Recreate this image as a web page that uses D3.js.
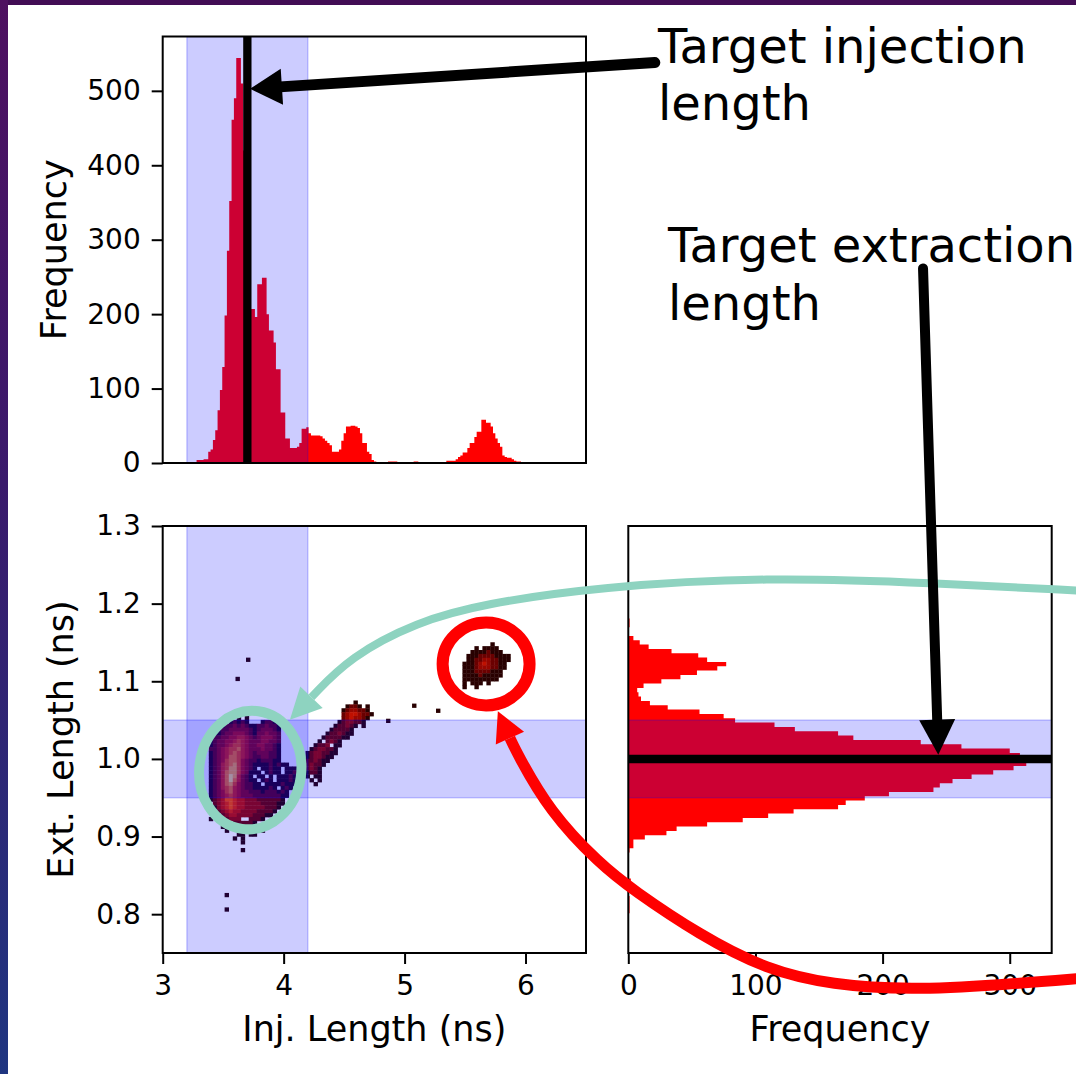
<!DOCTYPE html>
<html>
<head>
<meta charset="utf-8">
<script src="https://cdn.jsdelivr.net/npm/d3@7"></script>
<style>
  html, body { margin: 0; padding: 0; background: #ffffff; }
  svg { display: block; font-family: "DejaVu Sans", sans-serif; }
</style>
</head>
<body>
<svg id="fig" width="1076" height="1074"></svg>
<script>
// ---------------- data ----------------
const injDomain = [3, 6.5];
const extDomain = [0.75, 1.3];
const countDomain = [0, 573];
const freqDomain = [0, 333];

const injTicks = [3, 4, 5, 6];
const extTicks = [0.8, 0.9, 1.0, 1.1, 1.2, 1.3];
const countTicks = [0, 100, 200, 300, 400, 500];
const freqTicks = [0, 100, 200, 300];

const injWindow = [3.2, 4.2];
const extWindow = [0.95, 1.05];
const targetInj = 3.7;
const targetExt = 1.0;

// injection-length histogram (top panel)
const injBinStart = 3.28;
const injBinWidth = 0.0193;
const injCounts = [
  4, 4, 4, 5, 5, 15, 18, 31, 44, 71,
  98, 129, 198, 285, 352, 461, 490, 544, 544, 510,
  420, 330, 250, 207, 207, 196, 240, 240, 249, 249,
  200, 178, 178, 162, 126, 126, 68, 68, 33, 33,
  20, 20, 20, 22, 27, 46, 46, 48, 40, 37,
  37, 37, 37, 36, 33, 30, 27, 24, 15, 15,
  15, 18, 30, 40, 49, 49, 50, 50, 49, 47,
  40, 27, 27, 15, 12, 4, 2, 1, 0, 0,
  0, 0, 2, 2, 2, 2, 1, 0, 1, 0,
  0, 0, 0, 2, 2, 1, 0, 1, 1, 0,
  0, 1, 1, 1, 1, 0, 1, 3, 3, 3,
  3, 5, 8, 10, 14, 14, 20, 27, 27, 35,
  42, 42, 58, 58, 54, 54, 49, 40, 33, 27,
  22, 10, 8, 7, 7, 5, 3, 2, 2, 1
];

// extraction-length histogram (right panel), bins listed from the top down
const extBinTop = 1.1807;
const extBinWidth = 0.00558;
const extCounts = [
  1, 1, 0, 0,
  4, 9, 16, 34, 55, 62, 77, 70, 54, 41,
  26, 12, 7, 8, 10, 17, 31, 56, 75, 84,
  115, 131, 165, 177, 230, 262, 300, 308, 312, 313,
  303, 287, 270, 255, 245, 240, 205, 186, 171, 165,
  130, 110, 90, 62, 38, 30, 13, 4, 4, 1,
  0, 0, 0, 0, 0, 0, 2, 1, 0, 0, 1, 1, 1, 1
];

// 2-D density of (injection, extraction) pairs, one character per cell:
// '.' = empty, 1..9 = density level
const densityCell = [0.033, 0.005];
const mainClusterOrigin = [3.35, 1.055];
const mainClusterRows = [
  "........1.1..............",
  "......12121...1221.......",
  "....122323211223221......",
  "...1223333321233321......",
  "..11233444321334332......",
  ".122334455432344432......",
  ".123344565433344332......",
  ".123345665433443321......",
  ".223456675433343321......",
  ".123456765432333221......",
  ".123457765432233221......",
  ".123467764322122211......",
  ".12356786432111121211....",
  ".123568864321.11211.111..",
  ".1235788643111.1211.1121.",
  ".12357985321.11.1.11121..",
  ".123579753211.121.11121..",
  ".1235786432211.11112111..",
  ".12356754322111121.121...",
  ".12346754332221222121....",
  ".12345654333222222211....",
  ".1234665443332222221.....",
  "..234565443333222211.....",
  "..13456544333332221......",
  "...234544333322221.......",
  "....2344333322211........",
  ".1...2333..2221..........",
  ".......222221............",
  "....1....................",
  ".....1........1..........",
  "........11.11............",
  ".......1.1...............",
  ".........1...............",
  ".........................",
  ".........1..............."
];
const trailClusterOrigin = [4.15, 1.075];
const trailClusterRows = [
  ".............1....",
  "...........1221.1.",
  "..........1233221.",
  "..........23443221",
  "..........2343321.",
  ".........1233221..",
  "........122321.1..",
  ".......122221.....",
  "......1223211.....",
  ".....1222211......",
  "....1.2321........",
  "...1223.11........",
  "..1233221.........",
  ".12332211.........",
  ".1233211..........",
  "1223211...........",
  "123221............",
  "12321.............",
  ".1221.............",
  ".1.11.............",
  "..1.1.............",
  "...1.............."
];
const farClusterOrigin = [5.48, 1.155];
const farClusterRows = [
  ".............",
  ".......1.....",
  "...1.1111....",
  "..11112111...",
  ".11122221111.",
  ".11223322111.",
  "11123432211..",
  "11123332211..",
  "1112222111...",
  "1111211111...",
  "111111111....",
  "1.111.1......",
  "1..1........."
];
const strayPoints = [
  [3.707, 1.1277], [3.62, 1.103], [3.53, 0.8246], [3.53, 0.806],
  [5.08, 1.0685], [5.278, 1.062], [4.865, 1.049]
];

// call-outs, anchored in the data space of the panel they point into
const injArrow = { from: [7.069, 538], tip: [3.7215, 502.7] };        // (inj, count)
const extArrow = { from: [231.8, 1.6318], tip: [243.8, 1.0055] };     // (freq, ext)
const tealCurve = [[10.62, 1.2164], [9.366, 1.2267], [7.994, 1.2344], [6.614, 1.2216],
                   [5.647, 1.1997], [5.102, 1.1765], [4.548, 1.1315], [4.23, 1.0795]];
const tealTip = [4.052, 1.0505];
const redCurve = [[10.622, 0.7178], [9.92, 0.7088], [9.176, 0.7024], [8.54, 0.7088],
                  [7.994, 0.7281], [7.44, 0.7732], [6.887, 0.8312], [6.614, 0.8647],
                  [6.201, 0.9317], [5.928, 1.0077], [5.871, 1.0269]];
const redTip = [5.771, 1.0614];
const tealRing = { center: [3.724, 0.9856], radii: [0.4215, 0.0765], tilt: 8 };
const redRing = { center: [5.674, 1.1223], radii: [0.3595, 0.0534], tilt: 0 };

// ---------------- layout ----------------
const W = 1076, H = 1074;
const colL = [162.7, 586], colR = [628.3, 1051.7];
const rowT = [36.5, 463], rowB = [526, 953];

const xInj = d3.scaleLinear().domain(injDomain).range(colL);
const yCount = d3.scaleLinear().domain(countDomain).range([rowT[1], rowT[0]]);
const yExt = d3.scaleLinear().domain(extDomain).range([rowB[1], rowB[0]]);
const xFreq = d3.scaleLinear().domain(freqDomain).range(colR);

const BAND = "rgba(0,0,255,0.2)";
const HIST = "#ff0000";
const heat = ["#280000", "#6a0000", "#980600", "#c01000", "#dc2400", "#f04800", "#ff7812", "#ffaa32", "#ffe070"];

const svg = d3.select("#fig");
const defs = svg.append("defs");

// slide frame behind the figure
const edgeGrad = defs.append("linearGradient").attr("id", "edge").attr("x1", 0).attr("y1", 0).attr("x2", 0).attr("y2", 1);
edgeGrad.append("stop").attr("offset", "0%").attr("stop-color", "#4e1060");
edgeGrad.append("stop").attr("offset", "45%").attr("stop-color", "#3a1a6c");
edgeGrad.append("stop").attr("offset", "100%").attr("stop-color", "#1f3580");
svg.append("rect").attr("width", W).attr("height", H).attr("fill", "#ffffff");
svg.append("rect").attr("x", 0).attr("y", 0).attr("width", W).attr("height", 5).attr("fill", "#420d55");
svg.append("rect").attr("x", 0).attr("y", 0).attr("width", 8).attr("height", H).attr("fill", "url(#edge)");

function clipFor(id, xr, yr) {
  defs.append("clipPath").attr("id", id).append("rect")
    .attr("x", xr[0]).attr("y", yr[0]).attr("width", xr[1] - xr[0]).attr("height", yr[1] - yr[0]);
  return "url(#" + id + ")";
}

function drawFrame(xr, yr) {
  svg.append("rect").attr("x", xr[0]).attr("y", yr[0])
    .attr("width", xr[1] - xr[0]).attr("height", yr[1] - yr[0])
    .attr("fill", "none").attr("stroke", "#000").attr("stroke-width", 2);
}

function styleAxis(g) {
  g.select(".domain").remove();
  g.selectAll(".tick line").attr("stroke", "#000").attr("stroke-width", 2);
  g.selectAll(".tick text").attr("fill", "#000").style("font-size", "28px")
    .style("font-family", "'DejaVu Sans', sans-serif");
}

// ---------------- top panel: injection histogram ----------------
const injPanel = svg.append("g").attr("clip-path", clipFor("clipTop", colL, rowT));
const injOutline = [[injBinStart, 0]];
injCounts.forEach((c, i) => {
  const a = injBinStart + i * injBinWidth, b = a + injBinWidth;
  injOutline.push([a, c], [b, c]);
});
injOutline.push([injBinStart + injCounts.length * injBinWidth, 0]);
injPanel.append("path")
  .attr("d", d3.line().x(d => xInj(d[0])).y(d => yCount(d[1]))(injOutline))
  .attr("fill", HIST);
injPanel.append("rect")
  .attr("x", xInj(injWindow[0])).attr("width", xInj(injWindow[1]) - xInj(injWindow[0]))
  .attr("y", rowT[0]).attr("height", rowT[1] - rowT[0])
  .attr("fill", BAND).attr("stroke", BAND).attr("stroke-width", 1.5);
injPanel.append("line")
  .attr("x1", xInj(targetInj)).attr("x2", xInj(targetInj))
  .attr("y1", rowT[0]).attr("y2", rowT[1])
  .attr("stroke", "#000").attr("stroke-width", 8.3);
drawFrame(colL, rowT);
svg.append("g").attr("transform", `translate(${colL[0]},0)`)
  .call(d3.axisLeft(yCount).tickValues(countTicks).tickSize(11).tickPadding(11).tickFormat(d3.format("d")))
  .call(styleAxis);

// ---------------- bottom-left panel: 2-D density ----------------
const densityPanel = svg.append("g").attr("clip-path", clipFor("clipMid", colL, rowB));
const cells = [];
function addCells(rows, origin) {
  rows.forEach((row, r) => {
    [...row].forEach((ch, c) => {
      if (ch === ".") return;
      cells.push({
        inj: origin[0] + (c + 0.5) * densityCell[0],
        ext: origin[1] - (r + 0.5) * densityCell[1],
        level: +ch
      });
    });
  });
}
addCells(mainClusterRows, mainClusterOrigin);
addCells(trailClusterRows, trailClusterOrigin);
addCells(farClusterRows, farClusterOrigin);
strayPoints.forEach(p => cells.push({ inj: p[0], ext: p[1], level: 1 }));

const cw = xInj(injDomain[0] + densityCell[0]) - xInj(injDomain[0]);
const chh = yExt(extDomain[0]) - yExt(extDomain[0] + densityCell[1]);
densityPanel.append("g").selectAll("rect").data(cells).join("rect")
  .attr("x", d => xInj(d.inj) - cw / 2 - 0.2)
  .attr("y", d => yExt(d.ext) - chh / 2 - 0.2)
  .attr("width", cw + 0.4).attr("height", chh + 0.4)
  .attr("fill", d => heat[d.level - 1]);

densityPanel.append("rect")
  .attr("x", xInj(injWindow[0])).attr("width", xInj(injWindow[1]) - xInj(injWindow[0]))
  .attr("y", rowB[0]).attr("height", rowB[1] - rowB[0])
  .attr("fill", BAND).attr("stroke", BAND).attr("stroke-width", 1.5);
densityPanel.append("rect")
  .attr("x", colL[0]).attr("width", colL[1] - colL[0])
  .attr("y", yExt(extWindow[1])).attr("height", yExt(extWindow[0]) - yExt(extWindow[1]))
  .attr("fill", BAND).attr("stroke", BAND).attr("stroke-width", 1.5);
drawFrame(colL, rowB);
svg.append("g").attr("transform", `translate(${colL[0]},0)`)
  .call(d3.axisLeft(yExt).tickValues(extTicks).tickSize(11).tickPadding(11).tickFormat(d3.format(".1f")))
  .call(styleAxis);
svg.append("g").attr("transform", `translate(0,${rowB[1]})`)
  .call(d3.axisBottom(xInj).tickValues(injTicks).tickSize(11).tickPadding(11).tickFormat(d3.format("d")))
  .call(styleAxis);

// ---------------- right panel: extraction histogram ----------------
const extPanel = svg.append("g").attr("clip-path", clipFor("clipSide", colR, rowB));
const extOutline = [[0, extBinTop]];
extCounts.forEach((c, i) => {
  const hi = extBinTop - i * extBinWidth, lo = hi - extBinWidth;
  extOutline.push([c, hi], [c, lo]);
});
extOutline.push([0, extBinTop - extCounts.length * extBinWidth]);
extPanel.append("path")
  .attr("d", d3.line().x(d => xFreq(d[0])).y(d => yExt(d[1]))(extOutline))
  .attr("fill", HIST);
extPanel.append("rect")
  .attr("x", colR[0]).attr("width", colR[1] - colR[0])
  .attr("y", yExt(extWindow[1])).attr("height", yExt(extWindow[0]) - yExt(extWindow[1]))
  .attr("fill", BAND).attr("stroke", BAND).attr("stroke-width", 1.5);
extPanel.append("line")
  .attr("x1", colR[0]).attr("x2", colR[1])
  .attr("y1", yExt(targetExt)).attr("y2", yExt(targetExt))
  .attr("stroke", "#000").attr("stroke-width", 8.5);
drawFrame(colR, rowB);
svg.append("g").attr("transform", `translate(0,${rowB[1]})`)
  .call(d3.axisBottom(xFreq).tickValues(freqTicks).tickSize(11).tickPadding(11).tickFormat(d3.format("d")))
  .call(styleAxis);

// ---------------- axis titles ----------------
const titleFont = "35px";
svg.append("text").attr("transform", `translate(66,${(rowT[0] + rowT[1]) / 2}) rotate(-90)`)
  .attr("text-anchor", "middle").style("font-size", titleFont).text("Frequency");
svg.append("text").attr("transform", `translate(73,${(rowB[0] + rowB[1]) / 2}) rotate(-90)`)
  .attr("text-anchor", "middle").style("font-size", titleFont).text("Ext. Length (ns)");
svg.append("text").attr("x", (colL[0] + colL[1]) / 2).attr("y", 1041)
  .attr("text-anchor", "middle").style("font-size", titleFont).text("Inj. Length (ns)");
svg.append("text").attr("x", (colR[0] + colR[1]) / 2).attr("y", 1041)
  .attr("text-anchor", "middle").style("font-size", titleFont).text("Frequency");

// ---------------- call-outs ----------------
const notes = svg.append("g");

function headPoints(tip, base, width) {
  const dx = tip[0] - base[0], dy = tip[1] - base[1];
  const L = Math.hypot(dx, dy), nx = -dy / L, ny = dx / L;
  return [[base[0] + nx * width / 2, base[1] + ny * width / 2], tip,
          [base[0] - nx * width / 2, base[1] - ny * width / 2]];
}
function straightArrow(from, tip, len, width, stroke, color) {
  const dx = tip[0] - from[0], dy = tip[1] - from[1];
  const L = Math.hypot(dx, dy);
  const base = [tip[0] - dx / L * len, tip[1] - dy / L * len];
  notes.append("line").attr("x1", from[0]).attr("y1", from[1])
    .attr("x2", base[0] + dx / L * 2).attr("y2", base[1] + dy / L * 2)
    .attr("stroke", color).attr("stroke-width", stroke).attr("stroke-linecap", "round");
  notes.append("polygon").attr("points", headPoints(tip, base, width).join(" ")).attr("fill", color);
}
function curvedArrow(pts, tip, width, stroke, color) {
  notes.append("path")
    .attr("d", d3.line().curve(d3.curveBasis)(pts))
    .attr("fill", "none").attr("stroke", color).attr("stroke-width", stroke);
  const base = pts[pts.length - 1];
  notes.append("polygon").attr("points", headPoints(tip, base, width).join(" ")).attr("fill", color);
}
function ring(spec, color, stroke) {
  const cx = xInj(spec.center[0]), cy = yExt(spec.center[1]);
  notes.append("ellipse")
    .attr("cx", cx).attr("cy", cy)
    .attr("rx", xInj(spec.center[0] + spec.radii[0]) - cx)
    .attr("ry", cy - yExt(spec.center[1] + spec.radii[1]))
    .attr("transform", `rotate(${spec.tilt},${cx},${cy})`)
    .attr("fill", "none").attr("stroke", color).attr("stroke-width", stroke);
}

const TEAL = "#8ed3c0";
ring(tealRing, TEAL, 10);
ring(redRing, "#ff0000", 12);
curvedArrow(tealCurve.map(p => [xInj(p[0]), yExt(p[1])]), [xInj(tealTip[0]), yExt(tealTip[1])], 31, 8, TEAL);
curvedArrow(redCurve.map(p => [xInj(p[0]), yExt(p[1])]), [xInj(redTip[0]), yExt(redTip[1])], 31, 11, "#ff0000");
straightArrow([xInj(injArrow.from[0]), yCount(injArrow.from[1])],
              [xInj(injArrow.tip[0]), yCount(injArrow.tip[1])], 32, 36, 11, "#000");
straightArrow([xFreq(extArrow.from[0]), yExt(extArrow.from[1])],
              [xFreq(extArrow.tip[0]), yExt(extArrow.tip[1])], 35, 36, 10, "#000");

const noteFont = "48px";
[["Target injection", 658, 63], ["length", 658, 120],
 ["Target extraction", 668, 262], ["length", 668, 320]].forEach(([t, x, y]) => {
  notes.append("text").attr("x", x).attr("y", y).style("font-size", noteFont).attr("fill", "#000").text(t);
});
</script>
</body>
</html>
